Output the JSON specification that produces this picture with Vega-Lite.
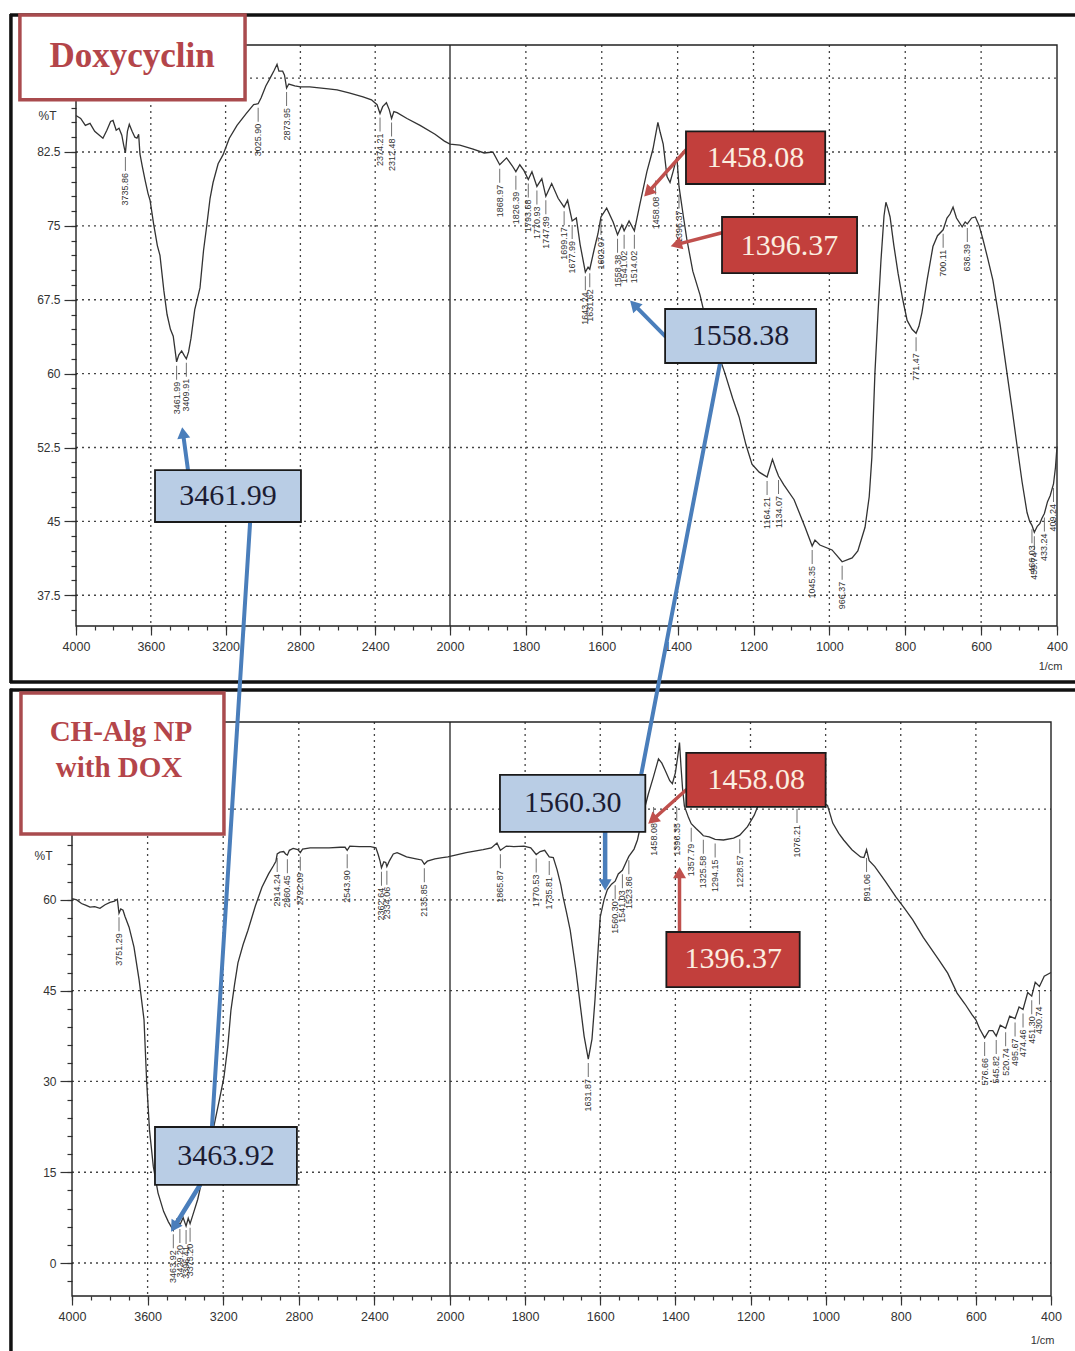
{
  "$schema": "https://vega.github.io/schema/vega-lite/v6.json",
  "width": 1075,
  "height": 1351,
  "autosize": {"type": "none"},
  "padding": 0,
  "background": "#ffffff",
  "config": {
    "view": {"stroke": null},
    "axis": {
      "labelFont": "Liberation Sans", "titleFont": "Liberation Sans",
      "labelColor": "#333333", "titleColor": "#333333",
      "tickColor": "#333333", "tickWidth": 1.2,
      "domain": false, "grid": false,
      "labelOverlap": false, "labelFlush": false, "labelBound": false
    }
  },
  "datasets": {
    "doxy": [
      {"wn":4000,"t":86.2},{"wn":3975,"t":85.9},{"wn":3950,"t":85.2},{"wn":3925,"t":85.4},{"wn":3900,"t":84.6},{"wn":3875,"t":84.2},{"wn":3856,"t":83.9},{"wn":3835,"t":84.7},{"wn":3815,"t":85.6},{"wn":3802,"t":85.7},{"wn":3785,"t":84.7},{"wn":3770,"t":84.9},{"wn":3755,"t":84.2},{"wn":3745,"t":83.2},{"wn":3735.86,"t":82.4},{"wn":3725,"t":84.6},{"wn":3715,"t":85.3},{"wn":3700,"t":84.6},{"wn":3685,"t":84.0},{"wn":3674,"t":83.9},{"wn":3665,"t":84.3},{"wn":3658,"t":82.3},{"wn":3645,"t":81.0},{"wn":3630,"t":79.6},{"wn":3615,"t":78.3},{"wn":3604,"t":77.6},{"wn":3585,"t":75.2},{"wn":3565,"t":73.0},{"wn":3551,"t":72.0},{"wn":3530,"t":68.4},{"wn":3513,"t":66.0},{"wn":3495,"t":64.5},{"wn":3480,"t":63.8},{"wn":3461.99,"t":61.2},{"wn":3450,"t":61.9},{"wn":3435,"t":62.3},{"wn":3420,"t":61.8},{"wn":3409.91,"t":61.5},{"wn":3398,"t":62.2},{"wn":3385,"t":63.6},{"wn":3365,"t":66.5},{"wn":3337,"t":68.7},{"wn":3318,"t":72.5},{"wn":3299,"t":75.3},{"wn":3283,"t":77.8},{"wn":3267,"t":79.4},{"wn":3240,"t":81.3},{"wn":3214,"t":82.2},{"wn":3180,"t":83.9},{"wn":3139,"t":85.2},{"wn":3090,"t":86.4},{"wn":3050,"t":87.3},{"wn":3025.9,"t":87.4},{"wn":3010,"t":88.0},{"wn":2985,"t":89.2},{"wn":2962,"t":90.0},{"wn":2940,"t":90.8},{"wn":2925,"t":91.4},{"wn":2915,"t":90.7},{"wn":2895,"t":90.7},{"wn":2885,"t":90.3},{"wn":2873.95,"t":89.0},{"wn":2862,"t":89.4},{"wn":2830,"t":89.2},{"wn":2800,"t":89.1},{"wn":2750,"t":89.1},{"wn":2700,"t":89.0},{"wn":2650,"t":88.9},{"wn":2604,"t":88.8},{"wn":2540,"t":88.5},{"wn":2465,"t":88.1},{"wn":2420,"t":87.8},{"wn":2390,"t":87.3},{"wn":2374.21,"t":86.4},{"wn":2360,"t":87.1},{"wn":2340,"t":87.5},{"wn":2325,"t":86.8},{"wn":2312.48,"t":85.9},{"wn":2300,"t":86.6},{"wn":2283,"t":86.5},{"wn":2230,"t":85.9},{"wn":2160,"t":85.2},{"wn":2080,"t":84.3},{"wn":2030,"t":83.6},{"wn":2000,"t":83.3},
      {"wn":1974,"t":83.2},{"wn":1939,"t":82.8},{"wn":1910,"t":82.4},{"wn":1887,"t":82.5},{"wn":1868.97,"t":81.2},{"wn":1851,"t":81.9},{"wn":1836,"t":81.1},{"wn":1826.39,"t":80.5},{"wn":1816,"t":81.2},{"wn":1805,"t":80.6},{"wn":1793.68,"t":79.7},{"wn":1784,"t":80.5},{"wn":1770.93,"t":79.0},{"wn":1758,"t":79.8},{"wn":1747.39,"t":78.0},{"wn":1732,"t":79.3},{"wn":1715,"t":77.8},{"wn":1699.17,"t":76.9},{"wn":1690,"t":77.6},{"wn":1677.99,"t":75.5},{"wn":1667,"t":75.8},{"wn":1657,"t":73.1},{"wn":1643.24,"t":70.3},{"wn":1636,"t":70.8},{"wn":1631.62,"t":70.6},{"wn":1620,"t":72.6},{"wn":1610,"t":74.2},{"wn":1602.07,"t":75.9},{"wn":1587,"t":76.8},{"wn":1570,"t":75.4},{"wn":1558.38,"t":74.1},{"wn":1547,"t":75.1},{"wn":1541.02,"t":74.5},{"wn":1528,"t":75.5},{"wn":1514.02,"t":74.5},{"wn":1500,"t":77.1},{"wn":1481,"t":80.5},{"wn":1465,"t":82.8},{"wn":1452,"t":85.5},{"wn":1446,"t":84.5},{"wn":1438,"t":83.3},{"wn":1428,"t":80.0},{"wn":1420,"t":79.4},{"wn":1412,"t":80.5},{"wn":1402,"t":82.0},{"wn":1396.37,"t":79.0},{"wn":1385,"t":76.0},{"wn":1376,"t":73.7},{"wn":1360,"t":70.4},{"wn":1341,"t":68.0},{"wn":1323,"t":65.0},{"wn":1300,"t":62.8},{"wn":1275,"t":60.0},{"wn":1255,"t":57.5},{"wn":1238,"t":55.6},{"wn":1220,"t":52.8},{"wn":1204,"t":50.8},{"wn":1185,"t":50.0},{"wn":1164.21,"t":49.5},{"wn":1150,"t":51.3},{"wn":1142,"t":50.4},{"wn":1134.07,"t":49.6},{"wn":1120,"t":48.7},{"wn":1093,"t":47.2},{"wn":1064,"t":44.4},{"wn":1045.35,"t":42.5},{"wn":1038,"t":43.1},{"wn":1025,"t":42.6},{"wn":993,"t":42.1},{"wn":966.37,"t":40.9},{"wn":940,"t":41.3},{"wn":925,"t":42.0},{"wn":906,"t":44.4},{"wn":895,"t":47.5},{"wn":888,"t":51.5},{"wn":880,"t":60.0},{"wn":872,"t":66.0},{"wn":864,"t":71.5},{"wn":856,"t":76.0},{"wn":851,"t":77.4},{"wn":846,"t":76.8},{"wn":840,"t":75.9},{"wn":830,"t":73.0},{"wn":819,"t":70.2},{"wn":807,"t":67.6},{"wn":795,"t":65.4},{"wn":782,"t":64.5},{"wn":771.47,"t":64.1},{"wn":764,"t":64.8},{"wn":756,"t":66.2},{"wn":742,"t":69.6},{"wn":727,"t":72.9},{"wn":715,"t":74.0},{"wn":700.11,"t":74.6},{"wn":690,"t":75.8},{"wn":682,"t":76.2},{"wn":674,"t":76.9},{"wn":665,"t":75.8},{"wn":650,"t":74.9},{"wn":642,"t":75.4},{"wn":636.39,"t":75.2},{"wn":625,"t":75.8},{"wn":615,"t":75.9},{"wn":605,"t":75.0},{"wn":595,"t":73.6},{"wn":582,"t":71.6},{"wn":569,"t":69.5},{"wn":550,"t":65.0},{"wn":532,"t":60.1},{"wn":518,"t":56.3},{"wn":505,"t":52.6},{"wn":492,"t":49.0},{"wn":479,"t":45.9},{"wn":472,"t":45.0},{"wn":466.03,"t":44.6},{"wn":459.74,"t":43.9},{"wn":452,"t":44.5},{"wn":445,"t":44.8},{"wn":440,"t":45.3},{"wn":433.24,"t":45.8},{"wn":425,"t":47.0},{"wn":418,"t":47.6},{"wn":409.24,"t":48.8},{"wn":404,"t":50.5},{"wn":400,"t":52.6}
    ],
    "chalg": [
      {"wn":4000,"t":60.2},{"wn":3975,"t":60.0},{"wn":3950,"t":59.4},{"wn":3925,"t":59.1},{"wn":3905,"t":58.8},{"wn":3880,"t":58.9},{"wn":3852,"t":58.6},{"wn":3825,"t":59.2},{"wn":3799,"t":59.6},{"wn":3775,"t":59.8},{"wn":3760,"t":60.1},{"wn":3751.29,"t":57.8},{"wn":3742,"t":58.5},{"wn":3730,"t":58.3},{"wn":3720,"t":57.3},{"wn":3698,"t":55.5},{"wn":3672,"t":52.2},{"wn":3645,"t":46.8},{"wn":3619,"t":40.2},{"wn":3605,"t":30.0},{"wn":3590,"t":22.0},{"wn":3570,"t":16.0},{"wn":3545,"t":11.6},{"wn":3515,"t":8.5},{"wn":3490,"t":6.8},{"wn":3463.92,"t":5.4},{"wn":3445,"t":7.2},{"wn":3429.2,"t":6.3},{"wn":3412,"t":7.5},{"wn":3396.41,"t":6.1},{"wn":3385,"t":7.4},{"wn":3375.2,"t":6.5},{"wn":3360,"t":8.0},{"wn":3335,"t":10.5},{"wn":3310,"t":14.0},{"wn":3280,"t":18.0},{"wn":3250,"t":22.5},{"wn":3220,"t":27.0},{"wn":3196,"t":30.7},{"wn":3175,"t":36.0},{"wn":3159,"t":41.8},{"wn":3140,"t":46.0},{"wn":3122,"t":49.6},{"wn":3095,"t":52.6},{"wn":3069,"t":55.0},{"wn":3030,"t":59.0},{"wn":2995,"t":62.1},{"wn":2960,"t":64.3},{"wn":2935,"t":65.6},{"wn":2921,"t":66.4},{"wn":2914.24,"t":67.6},{"wn":2900,"t":67.9},{"wn":2880,"t":68.0},{"wn":2870,"t":67.6},{"wn":2860.45,"t":67.4},{"wn":2850,"t":68.2},{"wn":2830,"t":68.5},{"wn":2805,"t":68.3},{"wn":2792.09,"t":67.8},{"wn":2780,"t":68.4},{"wn":2740,"t":68.6},{"wn":2700,"t":68.6},{"wn":2640,"t":68.6},{"wn":2580,"t":68.7},{"wn":2555,"t":68.7},{"wn":2543.9,"t":68.2},{"wn":2530,"t":68.9},{"wn":2480,"t":68.8},{"wn":2420,"t":68.8},{"wn":2392,"t":68.6},{"wn":2380,"t":67.5},{"wn":2370,"t":66.4},{"wn":2362.64,"t":65.3},{"wn":2350,"t":66.3},{"wn":2340,"t":66.2},{"wn":2334.06,"t":65.5},{"wn":2320,"t":66.5},{"wn":2300,"t":67.6},{"wn":2280,"t":67.8},{"wn":2265,"t":67.6},{"wn":2230,"t":67.1},{"wn":2180,"t":66.8},{"wn":2150,"t":66.6},{"wn":2135.85,"t":65.9},{"wn":2120,"t":66.4},{"wn":2080,"t":66.8},{"wn":2040,"t":67.0},{"wn":2011,"t":67.1},{"wn":2000,"t":67.2},
      {"wn":1957,"t":67.8},{"wn":1912,"t":68.3},{"wn":1890,"t":68.6},{"wn":1875,"t":69.4},{"wn":1865.87,"t":68.2},{"wn":1850,"t":68.9},{"wn":1830,"t":68.8},{"wn":1803,"t":68.9},{"wn":1785,"t":68.6},{"wn":1770.53,"t":67.5},{"wn":1760,"t":68.0},{"wn":1748,"t":68.2},{"wn":1735.81,"t":67.1},{"wn":1725,"t":67.0},{"wn":1715,"t":65.0},{"wn":1705,"t":62.5},{"wn":1699,"t":60.5},{"wn":1690,"t":58.0},{"wn":1680,"t":55.0},{"wn":1665,"t":48.5},{"wn":1653,"t":42.5},{"wn":1643,"t":37.5},{"wn":1631.87,"t":33.7},{"wn":1622,"t":37.0},{"wn":1614,"t":43.5},{"wn":1607,"t":50.5},{"wn":1600,"t":57.2},{"wn":1590,"t":60.0},{"wn":1581,"t":61.7},{"wn":1570,"t":62.6},{"wn":1560.3,"t":63.1},{"wn":1552,"t":64.3},{"wn":1541.03,"t":64.9},{"wn":1530,"t":66.4},{"wn":1523.86,"t":67.2},{"wn":1510,"t":68.4},{"wn":1501,"t":69.9},{"wn":1485,"t":74.4},{"wn":1472,"t":77.5},{"wn":1459,"t":80.2},{"wn":1450,"t":82.2},{"wn":1445,"t":83.3},{"wn":1436,"t":82.6},{"wn":1427,"t":81.4},{"wn":1415,"t":79.7},{"wn":1408,"t":79.2},{"wn":1400,"t":81.0},{"wn":1393,"t":84.0},{"wn":1389,"t":86.0},{"wn":1385,"t":82.0},{"wn":1381,"t":78.5},{"wn":1376,"t":75.5},{"wn":1365,"t":73.6},{"wn":1357.79,"t":72.6},{"wn":1345,"t":71.8},{"wn":1333,"t":71.1},{"wn":1325.58,"t":70.6},{"wn":1310,"t":70.4},{"wn":1294.15,"t":70.0},{"wn":1272,"t":69.9},{"wn":1245,"t":70.2},{"wn":1228.57,"t":70.7},{"wn":1208,"t":72.1},{"wn":1190,"t":74.0},{"wn":1181,"t":75.4},{"wn":1160,"t":76.2},{"wn":1120,"t":76.0},{"wn":1090,"t":76.0},{"wn":1076.21,"t":75.7},{"wn":1060,"t":76.0},{"wn":1030,"t":76.1},{"wn":1005,"t":76.0},{"wn":995,"t":75.6},{"wn":981,"t":72.7},{"wn":965,"t":71.0},{"wn":952,"t":69.9},{"wn":930,"t":68.3},{"wn":907,"t":67.1},{"wn":898,"t":67.0},{"wn":891.06,"t":68.3},{"wn":884,"t":66.5},{"wn":869,"t":65.5},{"wn":840,"t":63.0},{"wn":813,"t":60.5},{"wn":790,"t":58.6},{"wn":768,"t":56.7},{"wn":740,"t":53.8},{"wn":700,"t":50.2},{"wn":675,"t":47.9},{"wn":650,"t":44.6},{"wn":629,"t":42.8},{"wn":610,"t":41.0},{"wn":600,"t":40.2},{"wn":590,"t":38.7},{"wn":576.66,"t":37.2},{"wn":565,"t":38.4},{"wn":555,"t":38.4},{"wn":545.82,"t":37.5},{"wn":535,"t":39.3},{"wn":520.74,"t":38.8},{"wn":510,"t":40.8},{"wn":495.67,"t":40.4},{"wn":485,"t":42.3},{"wn":474.46,"t":41.9},{"wn":462,"t":44.7},{"wn":451.3,"t":44.1},{"wn":442,"t":46.4},{"wn":430.74,"t":45.7},{"wn":418,"t":47.4},{"wn":400,"t":48.0}
    ],
    "doxyPeaks": [
      {"wn":3735.86,"t":82.4},{"wn":3461.99,"t":61.2},{"wn":3409.91,"t":61.5},{"wn":3025.9,"t":87.4},{"wn":2873.95,"t":89.0},{"wn":2374.21,"t":86.4},{"wn":2312.48,"t":85.9},
      {"wn":1868.97,"t":81.2},{"wn":1826.39,"t":80.5},{"wn":1793.68,"t":79.7},{"wn":1770.93,"t":79.0},{"wn":1747.39,"t":78.0},{"wn":1699.17,"t":76.9},{"wn":1677.99,"t":75.5},{"wn":1643.24,"t":70.3},{"wn":1631.62,"t":70.6},{"wn":1602.07,"t":75.9},{"wn":1558.38,"t":74.1},{"wn":1541.02,"t":74.5},{"wn":1514.02,"t":74.5},{"wn":1458.08,"t":80.0},{"wn":1396.37,"t":78.6},
      {"wn":1164.21,"t":49.5},{"wn":1134.07,"t":49.6},{"wn":1045.35,"t":42.5},{"wn":966.37,"t":40.9},{"wn":771.47,"t":64.1},{"wn":700.11,"t":74.6},{"wn":636.39,"t":75.2},{"wn":466.03,"t":44.6},{"wn":459.74,"t":43.9},{"wn":433.24,"t":45.8},{"wn":409.24,"t":48.8}
    ],
    "chalgPeaks": [
      {"wn":3751.29,"t":57.8},{"wn":3463.92,"t":5.4},{"wn":3429.2,"t":6.3},{"wn":3396.41,"t":6.1},{"wn":3375.2,"t":6.5},{"wn":2914.24,"t":67.6},{"wn":2860.45,"t":67.4},{"wn":2792.09,"t":67.8},{"wn":2543.9,"t":68.2},{"wn":2362.64,"t":65.3},{"wn":2334.06,"t":65.5},{"wn":2135.85,"t":65.9},
      {"wn":1865.87,"t":68.2},{"wn":1770.53,"t":67.5},{"wn":1735.81,"t":67.1},{"wn":1631.87,"t":33.7},{"wn":1560.3,"t":63.1},{"wn":1541.03,"t":64.9},{"wn":1523.86,"t":67.2},{"wn":1458.08,"t":76.0},{"wn":1396.35,"t":76.0},{"wn":1357.79,"t":72.6},{"wn":1325.58,"t":70.6},{"wn":1294.15,"t":70.0},{"wn":1228.57,"t":70.7},{"wn":1076.21,"t":75.7},{"wn":891.06,"t":67.6},
      {"wn":576.66,"t":37.2},{"wn":545.82,"t":37.5},{"wn":520.74,"t":38.8},{"wn":495.67,"t":40.4},{"wn":474.46,"t":41.9},{"wn":451.3,"t":44.1},{"wn":430.74,"t":45.7}
    ],
    "vGrid": [{"wn":3600},{"wn":3200},{"wn":2800},{"wn":2400},{"wn":1800},{"wn":1600},{"wn":1400},{"wn":1200},{"wn":1000},{"wn":800},{"wn":600}],
    "topHGrid": [{"t":90},{"t":82.5},{"t":75},{"t":67.5},{"t":60},{"t":52.5},{"t":45},{"t":37.5}],
    "botHGrid": [{"t":75},{"t":60},{"t":45},{"t":30},{"t":15},{"t":0}],
    "topBoxes": [
      {"kind":"title","wn1":4300,"wn2":3096,"t1":96.4,"t2":87.8},
      {"kind":"red","wn1":1378,"wn2":1011,"t1":84.6,"t2":79.25},
      {"kind":"red","wn1":1283,"wn2":927,"t1":75.9,"t2":70.2},
      {"kind":"blue","wn1":1433,"wn2":1035,"t1":66.56,"t2":61.08},
      {"kind":"blue","wn1":3577.5,"wn2":2797,"t1":50.2,"t2":44.94}
    ],
    "topTexts": [
      {"kind":"title","label":"Doxycyclin","wn":3700,"t":92.2},
      {"kind":"red","label":"1458.08","wn":1195,"t":81.9},
      {"kind":"red","label":"1396.37","wn":1105,"t":73.0},
      {"kind":"blue","label":"1558.38","wn":1234,"t":63.8},
      {"kind":"blue","label":"3461.99","wn":3187,"t":47.6}
    ],
    "topArrows": [
      {"kind":"blue","wn1":3069,"t1":44.9,"wn2":3273,"t2":-16.5},
      {"kind":"blue","wn1":1288,"t1":61.1,"wn2":1497,"t2":19.1},
      {"kind":"red","wn1":1378,"t1":82.7,"wn2":1478,"t2":78.4,"heading":223},
      {"kind":"red","wn1":1283,"t1":74.3,"wn2":1404,"t2":73.1,"heading":253},
      {"kind":"blue","wn1":1433,"t1":63.8,"wn2":1515,"t2":67.0,"heading":316},
      {"kind":"blue","wn1":3401,"t1":50.2,"wn2":3428,"t2":54.0,"heading":352}
    ],
    "botBoxes": [
      {"kind":"title","wn1":4270,"wn2":3196,"t1":94.2,"t2":70.9},
      {"kind":"blue","wn1":1867,"wn2":1480,"t1":80.66,"t2":71.24},
      {"kind":"red","wn1":1371,"wn2":1000,"t1":84.3,"t2":75.37},
      {"kind":"red","wn1":1424,"wn2":1069,"t1":54.7,"t2":45.6},
      {"kind":"blue","wn1":3561,"wn2":2810,"t1":22.48,"t2":12.9}
    ],
    "botTexts": [
      {"kind":"title","label":"CH-Alg NP","wn":3741,"t":87.8},
      {"kind":"title","label":"with DOX","wn":3751,"t":81.8},
      {"kind":"blue","label":"1560.30","wn":1673,"t":75.95},
      {"kind":"red","label":"1458.08","wn":1185,"t":79.8},
      {"kind":"red","label":"1396.37","wn":1246,"t":50.2},
      {"kind":"blue","label":"3463.92","wn":3185,"t":17.7}
    ],
    "botArrows": [
      {"kind":"blue","wn1":1587,"t1":71.2,"wn2":1587,"t2":62.5,"heading":180},
      {"kind":"red","wn1":1371,"t1":78.2,"wn2":1461,"t2":73.2,"heading":229},
      {"kind":"red","wn1":1389,"t1":55.0,"wn2":1389,"t2":64.5,"heading":0},
      {"kind":"blue","wn1":3323,"t1":12.9,"wn2":3460,"t2":5.95,"heading":212}
    ]
  },
  "resolve": {
    "scale": {"x": "independent", "y": "independent"},
    "axis": {"x": "independent", "y": "independent"}
  },
  "layer": [
    {
      "resolve": {"axis": {"x": "independent", "y": "independent"}},
      "layer": [
        {
          "data": {"name": "topHGrid"},
          "mark": {"type": "rule", "color": "#444444", "strokeWidth": 1.3, "strokeDash": [2, 4]},
          "encoding": {
            "y": {
              "field": "t", "type": "quantitative",
              "scale": {"domain": [34.38, 93.36], "range": [626, 45], "nice": false, "zero": false},
              "axis": {"orient": "left", "offset": -76, "values": [36,37.5,39,40.5,42,43.5,45,46.5,48,49.5,51,52.5,54,55.5,57,58.5,60,61.5,63,64.5,66,67.5,69,70.5,72,73.5,75,76.5,78,79.5,81,82.5,84,85.5,87], "tickSize": 5, "labels": false, "title": null}
            },
            "x": {
              "datum": 4000, "type": "quantitative",
              "scale": {"domain": [4000, 2000, 400], "range": [76, 450, 1057], "nice": false, "zero": false},
              "axis": {"orient": "bottom", "offset": -725, "values": [4000,3900,3800,3700,3600,3500,3400,3300,3200,3100,3000,2900,2800,2700,2600,2500,2400,2300,2200,2100,2000,1950,1900,1850,1800,1750,1700,1650,1600,1550,1500,1450,1400,1350,1300,1250,1200,1150,1100,1050,1000,950,900,850,800,750,700,650,600,550,500,450,400], "tickSize": 4, "labels": false, "title": null}
            },
            "x2": {"datum": 400}
          }
        },
        {
          "data": {"name": "vGrid"},
          "mark": {"type": "rule", "color": "#444444", "strokeWidth": 1.3, "strokeDash": [2, 4]},
          "encoding": {
            "x": {"field": "wn", "type": "quantitative", "axis": null},
            "y": {"datum": 93.36, "type": "quantitative", "axis": null},
            "y2": {"datum": 34.38}
          }
        },
        {
          "data": {"values": [{}]},
          "mark": {"type": "rule", "color": "#333333", "strokeWidth": 1.4},
          "encoding": {
            "x": {"datum": 2000, "type": "quantitative", "axis": null},
            "y": {"datum": 93.36, "type": "quantitative", "axis": null},
            "y2": {"datum": 34.38}
          }
        },
        {
          "data": {"values": [{}]},
          "mark": {"type": "rect", "fillOpacity": 0, "stroke": "#222222", "strokeWidth": 1.4},
          "encoding": {
            "x": {"datum": 4000, "type": "quantitative", "axis": null},
            "x2": {"datum": 400},
            "y": {"datum": 93.36, "type": "quantitative", "axis": null},
            "y2": {"datum": 34.38}
          }
        },
        {
          "data": {"values": [{}]},
          "mark": {"type": "rule", "color": "#111111", "strokeWidth": 3.5},
          "encoding": {
            "x": {"datum": 4353, "type": "quantitative", "axis": null},
            "x2": {"datum": 330},
            "y": {"datum": 96.4, "type": "quantitative", "axis": null}
          }
        },
        {
          "data": {"values": [{}]},
          "mark": {"type": "rule", "color": "#111111", "strokeWidth": 3.5},
          "encoding": {
            "x": {"datum": 4353, "type": "quantitative", "axis": null},
            "x2": {"datum": 330},
            "y": {"datum": 28.7, "type": "quantitative", "axis": null}
          }
        },
        {
          "data": {"values": [{}]},
          "mark": {"type": "rule", "color": "#111111", "strokeWidth": 3.5},
          "encoding": {
            "x": {"datum": 4348, "type": "quantitative", "axis": null},
            "y": {"datum": 96.5, "type": "quantitative", "axis": null},
            "y2": {"datum": 28.6}
          }
        },
        {
          "data": {"name": "doxy"},
          "mark": {"type": "line", "color": "#333333", "strokeWidth": 1.3},
          "encoding": {
            "x": {
              "field": "wn", "type": "quantitative",
              "axis": {
                "orient": "bottom", "offset": -725,
                "values": [4000,3600,3200,2800,2400,2000,1800,1600,1400,1200,1000,800,600,400],
                "tickSize": 9, "format": "d", "labelFontSize": 12.5, "labelPadding": 5,
                "title": "1/cm", "titleX": 1062, "titleY": 40, "titleAlign": "right", "titleBaseline": "middle", "titleFontSize": 11, "titleFontWeight": "normal"
              }
            },
            "y": {
              "field": "t", "type": "quantitative",
              "axis": {
                "orient": "left", "offset": -76,
                "values": [37.5,45,52.5,60,67.5,75,82.5],
                "tickSize": 12, "format": ".3~g", "labelFontSize": 12, "labelPadding": 4,
                "title": "%T", "titleAngle": 0, "titleX": -20, "titleY": 115, "titleAlign": "right", "titleBaseline": "middle", "titleFontSize": 12, "titleFontWeight": "normal"
              }
            }
          }
        },
        {
          "data": {"name": "doxyPeaks"},
          "mark": {"type": "tick", "orient": "vertical", "size": 14, "thickness": 1, "yOffset": 11, "color": "#333333"},
          "encoding": {
            "x": {"field": "wn", "type": "quantitative", "axis": null},
            "y": {"field": "t", "type": "quantitative", "axis": null}
          }
        },
        {
          "data": {"name": "doxyPeaks"},
          "mark": {"type": "text", "angle": 270, "align": "right", "baseline": "middle", "yOffset": 20, "font": "Liberation Sans", "fontSize": 9, "color": "#333333"},
          "encoding": {
            "x": {"field": "wn", "type": "quantitative", "axis": null},
            "y": {"field": "t", "type": "quantitative", "axis": null},
            "text": {"field": "wn", "type": "quantitative", "format": ".2f"}
          }
        }
      ]
    },
    {
      "resolve": {"axis": {"x": "independent", "y": "independent"}},
      "layer": [
        {
          "data": {"name": "botHGrid"},
          "mark": {"type": "rule", "color": "#444444", "strokeWidth": 1.3, "strokeDash": [2, 4]},
          "encoding": {
            "y": {
              "field": "t", "type": "quantitative",
              "scale": {"domain": [-5.45, 89.4], "range": [1296, 722], "nice": false, "zero": false},
              "axis": {"orient": "left", "offset": -72, "values": [-3,0,3,6,9,12,15,18,21,24,27,30,33,36,39,42,45,48,51,54,57,60,63,66,69], "tickSize": 5, "labels": false, "title": null}
            },
            "x": {
              "datum": 4000, "type": "quantitative",
              "scale": {"domain": [4000, 2000, 400], "range": [72, 450, 1051], "nice": false, "zero": false},
              "axis": {"orient": "bottom", "offset": -55, "values": [4000,3900,3800,3700,3600,3500,3400,3300,3200,3100,3000,2900,2800,2700,2600,2500,2400,2300,2200,2100,2000,1950,1900,1850,1800,1750,1700,1650,1600,1550,1500,1450,1400,1350,1300,1250,1200,1150,1100,1050,1000,950,900,850,800,750,700,650,600,550,500,450,400], "tickSize": 4, "labels": false, "title": null}
            },
            "x2": {"datum": 400}
          }
        },
        {
          "data": {"name": "vGrid"},
          "mark": {"type": "rule", "color": "#444444", "strokeWidth": 1.3, "strokeDash": [2, 4]},
          "encoding": {
            "x": {"field": "wn", "type": "quantitative", "axis": null},
            "y": {"datum": 89.4, "type": "quantitative", "axis": null},
            "y2": {"datum": -5.45}
          }
        },
        {
          "data": {"values": [{}]},
          "mark": {"type": "rule", "color": "#333333", "strokeWidth": 1.4},
          "encoding": {
            "x": {"datum": 2000, "type": "quantitative", "axis": null},
            "y": {"datum": 89.4, "type": "quantitative", "axis": null},
            "y2": {"datum": -5.45}
          }
        },
        {
          "data": {"values": [{}]},
          "mark": {"type": "rect", "fillOpacity": 0, "stroke": "#222222", "strokeWidth": 1.4},
          "encoding": {
            "x": {"datum": 4000, "type": "quantitative", "axis": null},
            "x2": {"datum": 400},
            "y": {"datum": 89.4, "type": "quantitative", "axis": null},
            "y2": {"datum": -5.45}
          }
        },
        {
          "data": {"values": [{}]},
          "mark": {"type": "rule", "color": "#111111", "strokeWidth": 3.5},
          "encoding": {
            "x": {"datum": 4328, "type": "quantitative", "axis": null},
            "x2": {"datum": 330},
            "y": {"datum": 94.7, "type": "quantitative", "axis": null}
          }
        },
        {
          "data": {"values": [{}]},
          "mark": {"type": "rule", "color": "#111111", "strokeWidth": 3.5},
          "encoding": {
            "x": {"datum": 4323, "type": "quantitative", "axis": null},
            "y": {"datum": 94.9, "type": "quantitative", "axis": null},
            "y2": {"datum": -17}
          }
        },
        {
          "data": {"name": "chalg"},
          "mark": {"type": "line", "color": "#333333", "strokeWidth": 1.3},
          "encoding": {
            "x": {
              "field": "wn", "type": "quantitative",
              "axis": {
                "orient": "bottom", "offset": -55,
                "values": [4000,3600,3200,2800,2400,2000,1800,1600,1400,1200,1000,800,600,400],
                "tickSize": 9, "format": "d", "labelFontSize": 12.5, "labelPadding": 5,
                "title": "1/cm", "titleX": 1054, "titleY": 44, "titleAlign": "right", "titleBaseline": "middle", "titleFontSize": 11, "titleFontWeight": "normal"
              }
            },
            "y": {
              "field": "t", "type": "quantitative",
              "axis": {
                "orient": "left", "offset": -72,
                "values": [0,15,30,45,60],
                "tickSize": 12, "format": "d", "labelFontSize": 12, "labelPadding": 4,
                "title": "%T", "titleAngle": 0, "titleX": -20, "titleY": 855, "titleAlign": "right", "titleBaseline": "middle", "titleFontSize": 12, "titleFontWeight": "normal"
              }
            }
          }
        },
        {
          "data": {"name": "chalgPeaks"},
          "mark": {"type": "tick", "orient": "vertical", "size": 14, "thickness": 1, "yOffset": 11, "color": "#333333"},
          "encoding": {
            "x": {"field": "wn", "type": "quantitative", "axis": null},
            "y": {"field": "t", "type": "quantitative", "axis": null}
          }
        },
        {
          "data": {"name": "chalgPeaks"},
          "mark": {"type": "text", "angle": 270, "align": "right", "baseline": "middle", "yOffset": 20, "font": "Liberation Sans", "fontSize": 9, "color": "#333333"},
          "encoding": {
            "x": {"field": "wn", "type": "quantitative", "axis": null},
            "y": {"field": "t", "type": "quantitative", "axis": null},
            "text": {"field": "wn", "type": "quantitative", "format": ".2f"}
          }
        }
      ]
    },
    {
      "layer": [
        {
          "data": {"name": "topArrows"},
          "mark": {"type": "rule", "strokeCap": "round"},
          "encoding": {
            "x": {"field": "wn1", "type": "quantitative", "axis": null, "scale": {"domain": [4000, 2000, 400], "range": [76, 450, 1057], "nice": false, "zero": false}},
            "x2": {"field": "wn2"},
            "y": {"field": "t1", "type": "quantitative", "axis": null, "scale": {"domain": [34.38, 93.36], "range": [626, 45], "nice": false, "zero": false}},
            "y2": {"field": "t2"},
            "color": {"condition": {"test": "datum.kind === 'red'", "value": "#c0504d"}, "value": "#4a7ebb"},
            "strokeWidth": {"condition": {"test": "datum.kind === 'red'", "value": 3.5}, "value": 4}
          }
        },
        {
          "data": {"name": "topBoxes"},
          "mark": {"type": "rect"},
          "encoding": {
            "x": {"field": "wn1", "type": "quantitative", "axis": null},
            "x2": {"field": "wn2"},
            "y": {"field": "t1", "type": "quantitative", "axis": null},
            "y2": {"field": "t2"},
            "fill": {"condition": [{"test": "datum.kind === 'red'", "value": "#c23f3c"}, {"test": "datum.kind === 'blue'", "value": "#b9cde5"}], "value": "#ffffff"},
            "stroke": {"condition": {"test": "datum.kind === 'title'", "value": "#a94b4e"}, "value": "#1a1a1a"},
            "strokeWidth": {"condition": {"test": "datum.kind === 'title'", "value": 3.5}, "value": 1.8}
          }
        },
        {
          "data": {"name": "topTexts"},
          "transform": [{"filter": "datum.kind !== 'title'"}],
          "mark": {"type": "text", "font": "Liberation Serif", "fontSize": 30, "align": "center", "baseline": "middle"},
          "encoding": {
            "x": {"field": "wn", "type": "quantitative", "axis": null},
            "y": {"field": "t", "type": "quantitative", "axis": null},
            "text": {"field": "label"},
            "color": {"condition": {"test": "datum.kind === 'red'", "value": "#fbeee0"}, "value": "#1c1c33"}
          }
        },
        {
          "data": {"name": "topTexts"},
          "transform": [{"filter": "datum.kind === 'title'"}],
          "mark": {"type": "text", "font": "Liberation Serif", "fontSize": 35, "fontWeight": "bold", "align": "center", "baseline": "middle", "color": "#b4454a"},
          "encoding": {
            "x": {"field": "wn", "type": "quantitative", "axis": null},
            "y": {"field": "t", "type": "quantitative", "axis": null},
            "text": {"field": "label"}
          }
        },
        {
          "data": {"name": "topArrows"},
          "transform": [{"filter": "isValid(datum.heading)"}],
          "mark": {"type": "point", "shape": "triangle-up", "filled": true, "opacity": 1, "size": 170},
          "encoding": {
            "x": {"field": "wn2", "type": "quantitative", "axis": null},
            "y": {"field": "t2", "type": "quantitative", "axis": null},
            "angle": {"field": "heading", "type": "quantitative", "scale": null},
            "color": {"condition": {"test": "datum.kind === 'red'", "value": "#c0504d"}, "value": "#4a7ebb"}
          }
        }
      ]
    },
    {
      "layer": [
        {
          "data": {"name": "botArrows"},
          "mark": {"type": "rule", "strokeCap": "round"},
          "encoding": {
            "x": {"field": "wn1", "type": "quantitative", "axis": null, "scale": {"domain": [4000, 2000, 400], "range": [72, 450, 1051], "nice": false, "zero": false}},
            "x2": {"field": "wn2"},
            "y": {"field": "t1", "type": "quantitative", "axis": null, "scale": {"domain": [-5.45, 89.4], "range": [1296, 722], "nice": false, "zero": false}},
            "y2": {"field": "t2"},
            "color": {"condition": {"test": "datum.kind === 'red'", "value": "#c0504d"}, "value": "#4a7ebb"},
            "strokeWidth": {"condition": {"test": "datum.kind === 'red'", "value": 3.5}, "value": 4.5}
          }
        },
        {
          "data": {"name": "botBoxes"},
          "mark": {"type": "rect"},
          "encoding": {
            "x": {"field": "wn1", "type": "quantitative", "axis": null},
            "x2": {"field": "wn2"},
            "y": {"field": "t1", "type": "quantitative", "axis": null},
            "y2": {"field": "t2"},
            "fill": {"condition": [{"test": "datum.kind === 'red'", "value": "#c23f3c"}, {"test": "datum.kind === 'blue'", "value": "#b9cde5"}], "value": "#ffffff"},
            "stroke": {"condition": {"test": "datum.kind === 'title'", "value": "#a94b4e"}, "value": "#1a1a1a"},
            "strokeWidth": {"condition": {"test": "datum.kind === 'title'", "value": 3.5}, "value": 1.8}
          }
        },
        {
          "data": {"name": "botTexts"},
          "transform": [{"filter": "datum.kind !== 'title'"}],
          "mark": {"type": "text", "font": "Liberation Serif", "fontSize": 30, "align": "center", "baseline": "middle"},
          "encoding": {
            "x": {"field": "wn", "type": "quantitative", "axis": null},
            "y": {"field": "t", "type": "quantitative", "axis": null},
            "text": {"field": "label"},
            "color": {"condition": {"test": "datum.kind === 'red'", "value": "#fbeee0"}, "value": "#1c1c33"}
          }
        },
        {
          "data": {"name": "botTexts"},
          "transform": [{"filter": "datum.kind === 'title'"}],
          "mark": {"type": "text", "font": "Liberation Serif", "fontSize": 29, "fontWeight": "bold", "align": "center", "baseline": "middle", "color": "#b4454a"},
          "encoding": {
            "x": {"field": "wn", "type": "quantitative", "axis": null},
            "y": {"field": "t", "type": "quantitative", "axis": null},
            "text": {"field": "label"}
          }
        },
        {
          "data": {"name": "botArrows"},
          "mark": {"type": "point", "shape": "triangle-up", "filled": true, "opacity": 1, "size": 170},
          "encoding": {
            "x": {"field": "wn2", "type": "quantitative", "axis": null},
            "y": {"field": "t2", "type": "quantitative", "axis": null},
            "angle": {"field": "heading", "type": "quantitative", "scale": null},
            "color": {"condition": {"test": "datum.kind === 'red'", "value": "#c0504d"}, "value": "#4a7ebb"}
          }
        }
      ]
    }
  ]
}
